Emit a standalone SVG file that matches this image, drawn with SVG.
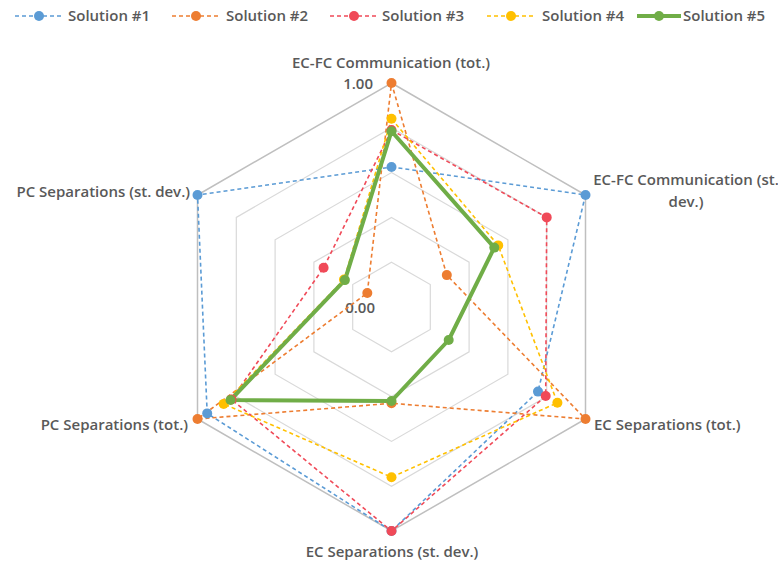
<svg xmlns="http://www.w3.org/2000/svg" width="778" height="565" viewBox="0 0 778 565">
<style>
  text { font-family: "Open Sans", "Liberation Sans", sans-serif; fill: #595959; font-weight: 600; }
  .lbl { font-size: 15px; }
  .leg { font-size: 15px; }
  .tick { font-size: 15px; }
  .ring { fill: none; stroke: #d9d9d9; stroke-width: 1.2; }
  .outer { fill: none; stroke: #bfbfbf; stroke-width: 1.5; }
  .s { fill: none; stroke-width: 1.6; stroke-dasharray: 4 3; stroke-linejoin: round; }
  .s1 { stroke: #5b9bd5; } .f1 { fill: #5b9bd5; }
  .s2 { stroke: #ed7d31; } .f2 { fill: #ed7d31; }
  .s3 { stroke: #f04a58; } .f3 { fill: #f04a58; }
  .s4 { stroke: #ffc000; } .f4 { fill: #ffc000; }
  .s5 { fill: none; stroke: #70ad47; stroke-width: 4; stroke-linejoin: round; } .f5 { fill: #70ad47; }
</style>
<rect width="778" height="565" fill="#ffffff"/>

<g id="legend">
  <g id="legend-1">
    <line class="s s1" x1="15" y1="16" x2="63" y2="16"/>
    <circle class="f1" cx="39" cy="16" r="5"/>
    <text class="leg" x="68" y="21">Solution #1</text>
  </g>
  <g id="legend-2">
    <line class="s s2" x1="172" y1="16" x2="220" y2="16"/>
    <circle class="f2" cx="196" cy="16" r="5"/>
    <text class="leg" x="226" y="21">Solution #2</text>
  </g>
  <g id="legend-3">
    <line class="s s3" x1="330" y1="16" x2="378" y2="16"/>
    <circle class="f3" cx="354" cy="16" r="5"/>
    <text class="leg" x="382" y="21">Solution #3</text>
  </g>
  <g id="legend-4">
    <line class="s s4" x1="487" y1="16" x2="535" y2="16"/>
    <circle class="f4" cx="511" cy="16" r="5"/>
    <text class="leg" x="542" y="21">Solution #4</text>
  </g>
  <g id="legend-5">
    <line class="s5" x1="637" y1="16" x2="681" y2="16"/>
    <circle class="f5" cx="659" cy="16" r="5"/>
    <text class="leg" x="683" y="21">Solution #5</text>
  </g>
</g>

<g id="grid">
  <polygon class="ring" points="391.5,262.2 430.3,284.6 430.3,329.4 391.5,351.8 352.7,329.4 352.7,284.6"/>
  <polygon class="ring" points="391.5,217.4 469.1,262.2 469.1,351.8 391.5,396.6 313.9,351.8 313.9,262.2"/>
  <polygon class="ring" points="391.5,172.6 507.9,239.8 507.9,374.2 391.5,441.4 275.1,374.2 275.1,239.8"/>
  <polygon class="ring" points="391.5,127.8 546.7,217.4 546.7,396.6 391.5,486.2 236.3,396.6 236.3,217.4"/>
  <polygon class="outer" points="391.5,83 585.5,195 585.5,419 391.5,531 197.5,419 197.5,195"/>
</g>

<g id="axis-labels">
  <g id="axis-ecfc-tot"><text class="lbl" x="391" y="68" text-anchor="middle">EC-FC Communication (tot.)</text></g>
  <g id="axis-ecfc-sd"><text class="lbl" x="686" y="185" text-anchor="middle">EC-FC Communication (st.</text><text class="lbl" x="686" y="207" text-anchor="middle">dev.)</text></g>
  <g id="axis-ec-tot"><text class="lbl" x="594" y="430">EC Separations (tot.)</text></g>
  <g id="axis-ec-sd"><text class="lbl" x="392" y="557" text-anchor="middle">EC Separations (st. dev.)</text></g>
  <g id="axis-pc-tot"><text class="lbl" x="188" y="430" text-anchor="end">PC Separations (tot.)</text></g>
  <g id="axis-pc-sd"><text class="lbl" x="190" y="197" text-anchor="end">PC Separations (st. dev.)</text></g>
  <text class="tick" x="373" y="89" text-anchor="end">1.00</text>
  <text class="tick" x="375" y="313" text-anchor="end">0.00</text>
</g>

<g id="connectors">
  <polygon id="series-1" class="s s1" points="391.5,167 585.5,195 538,391.6 391.5,531 207.2,413.4 197.5,195"/>
  <polygon id="series-2" class="s s2" points="391.5,83 446.8,275.1 585.5,419 391.5,403.3 197.5,419 367.3,293"/>
  <polygon id="series-3" class="s s3" points="391.5,130 546.7,217.4 545.7,396 391.5,531 231.5,399.4 323.6,267.8"/>
  <polygon id="series-4" class="s s4" points="391.5,118.8 498.2,245.4 557.4,402.8 391.5,477.2 223.7,403.9 344,279.6"/>
  <polygon id="series-5" class="s5" points="391.5,131.2 494.3,247.6 448.7,340 391.5,401 230.5,400 344.9,280.1"/>
</g>

<g id="markers-1" class="f1">
  <circle cx="391.5" cy="167" r="5"/><circle cx="585.5" cy="195" r="5"/><circle cx="538" cy="391.6" r="5"/>
  <circle cx="391.5" cy="531" r="5"/><circle cx="207.2" cy="413.4" r="5"/><circle cx="197.5" cy="195" r="5"/>
</g>
<g id="markers-2" class="f2">
  <circle cx="391.5" cy="83" r="5"/><circle cx="446.8" cy="275.1" r="5"/><circle cx="585.5" cy="419" r="5"/>
  <circle cx="391.5" cy="403.3" r="5"/><circle cx="197.5" cy="419" r="5"/><circle cx="367.3" cy="293" r="5"/>
</g>
<g id="markers-3" class="f3">
  <circle cx="391.5" cy="130" r="5"/><circle cx="546.7" cy="217.4" r="5"/><circle cx="545.7" cy="396" r="5"/>
  <circle cx="391.5" cy="531" r="5"/><circle cx="231.5" cy="399.4" r="5"/><circle cx="323.6" cy="267.8" r="5"/>
</g>
<g id="markers-4" class="f4">
  <circle cx="391.5" cy="118.8" r="5"/><circle cx="498.2" cy="245.4" r="5"/><circle cx="557.4" cy="402.8" r="5"/>
  <circle cx="391.5" cy="477.2" r="5"/><circle cx="223.7" cy="403.9" r="5"/><circle cx="344" cy="279.6" r="5"/>
</g>
<g id="markers-5" class="f5">
  <circle cx="391.5" cy="131.2" r="5"/><circle cx="494.3" cy="247.6" r="5"/><circle cx="448.7" cy="340" r="5"/>
  <circle cx="391.5" cy="401" r="5"/><circle cx="230.5" cy="400" r="5"/><circle cx="344.9" cy="280.1" r="5"/>
</g>
</svg>
